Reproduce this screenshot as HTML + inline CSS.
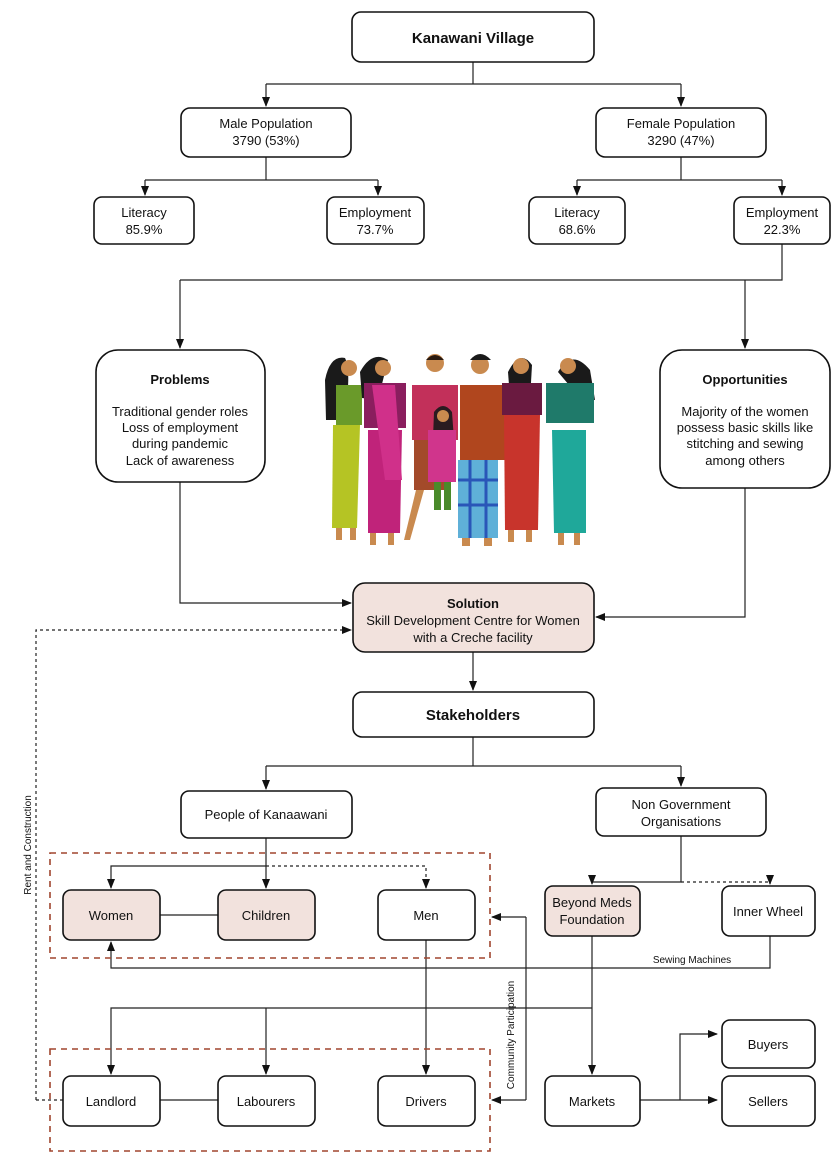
<!DOCTYPE html>
<html><head><meta charset="utf-8"><style>
body{margin:0;background:#fff}
svg text{font-family:"Liberation Sans",sans-serif;fill:#111}
</style></head><body>
<svg width="837" height="1166" viewBox="0 0 837 1166" xmlns="http://www.w3.org/2000/svg">
<defs>
<marker id="a" markerWidth="10" markerHeight="10" refX="9" refY="5" orient="auto" markerUnits="userSpaceOnUse"><path d="M0,1 L10,5 L0,9 z" fill="#111"/></marker>
</defs>
<g fill="none" stroke="#222" stroke-width="1.2">
<path d="M473 62V84M266 84H681"/>
<path d="M266 84V106" marker-end="url(#a)"/><path d="M681 84V106" marker-end="url(#a)"/>
<path d="M266 157V180M145 180H378"/>
<path d="M145 180V195" marker-end="url(#a)"/><path d="M378 180V195" marker-end="url(#a)"/>
<path d="M681 157V180M577 180H782"/>
<path d="M577 180V195" marker-end="url(#a)"/><path d="M782 180V195" marker-end="url(#a)"/>
<path d="M782 244V280H180"/>
<path d="M180 280V348" marker-end="url(#a)"/><path d="M745 280V348" marker-end="url(#a)"/>
<path d="M180 482V603H351" marker-end="url(#a)"/>
<path d="M745 488V617H596" marker-end="url(#a)"/>
<path d="M36 1100V630H351" stroke-dasharray="3,3" marker-end="url(#a)"/>
<path d="M36 1100H63" stroke-dasharray="3,3"/>
<path d="M473 652V690" marker-end="url(#a)"/>
<path d="M473 737V766M266 766H681"/>
<path d="M266 766V789" marker-end="url(#a)"/><path d="M681 766V786" marker-end="url(#a)"/>
<path d="M266 838V888" marker-end="url(#a)"/>
<path d="M266 866H111V888" marker-end="url(#a)"/>
<path d="M266 866H426V888" stroke-dasharray="3,3" marker-end="url(#a)"/>
<path d="M681 836V882H592V884" marker-end="url(#a)"/>
<path d="M681 882H770V884" stroke-dasharray="3,3" marker-end="url(#a)"/>
<path d="M160 915H218"/>
<path d="M770 935V968H111V942" marker-end="url(#a)"/>
<path d="M426 940V1074" marker-end="url(#a)"/>
<path d="M592 1008H111V1074" marker-end="url(#a)"/>
<path d="M266 1008V1074" marker-end="url(#a)"/>
<path d="M592 935V1074" marker-end="url(#a)"/>
<path d="M526 917V1100"/>
<path d="M526 917H492" marker-end="url(#a)"/>
<path d="M526 1100H492" marker-end="url(#a)"/>
<path d="M160 1100H218"/>
<path d="M640 1100H717" marker-end="url(#a)"/>
<path d="M680 1100V1034H717" marker-end="url(#a)"/>
</g>
<g fill="none" stroke="#a0452e" stroke-width="1.6" stroke-dasharray="6,5">
<rect x="50" y="853" width="440" height="105"/>
<rect x="50" y="1049" width="440" height="102"/>
</g>
<g stroke="#111" stroke-width="1.6" fill="#fff">
<rect x="352" y="12" width="242" height="50" rx="9"/>
<rect x="181" y="108" width="170" height="49" rx="9"/>
<rect x="596" y="108" width="170" height="49" rx="9"/>
<rect x="94" y="197" width="100" height="47" rx="8"/>
<rect x="327" y="197" width="97" height="47" rx="8"/>
<rect x="529" y="197" width="96" height="47" rx="8"/>
<rect x="734" y="197" width="96" height="47" rx="8"/>
<rect x="96" y="350" width="169" height="132" rx="22"/>
<rect x="660" y="350" width="170" height="138" rx="22"/>
<rect x="353" y="583" width="241" height="69" rx="12" fill="#f2e2dd"/>
<rect x="353" y="692" width="241" height="45" rx="9"/>
<rect x="181" y="791" width="171" height="47" rx="8"/>
<rect x="596" y="788" width="170" height="48" rx="8"/>
<rect x="63" y="890" width="97" height="50" rx="8" fill="#f2e2dd"/>
<rect x="218" y="890" width="97" height="50" rx="8" fill="#f2e2dd"/>
<rect x="378" y="890" width="97" height="50" rx="8"/>
<rect x="545" y="886" width="95" height="50" rx="8" fill="#f2e2dd"/>
<rect x="722" y="886" width="93" height="50" rx="8"/>
<rect x="63" y="1076" width="97" height="50" rx="8"/>
<rect x="218" y="1076" width="97" height="50" rx="8"/>
<rect x="378" y="1076" width="97" height="50" rx="8"/>
<rect x="545" y="1076" width="95" height="50" rx="8"/>
<rect x="722" y="1020" width="93" height="48" rx="8"/>
<rect x="722" y="1076" width="93" height="50" rx="8"/>
</g>
<g font-size="13" text-anchor="middle">
<text x="473" y="43" font-size="15" font-weight="bold">Kanawani Village</text>
<text x="266" y="128">Male Population</text><text x="266" y="145">3790 (53%)</text>
<text x="681" y="128">Female Population</text><text x="681" y="145">3290 (47%)</text>
<text x="144" y="217">Literacy</text><text x="144" y="234">85.9%</text>
<text x="375" y="217">Employment</text><text x="375" y="234">73.7%</text>
<text x="577" y="217">Literacy</text><text x="577" y="234">68.6%</text>
<text x="782" y="217">Employment</text><text x="782" y="234">22.3%</text>
<text x="180" y="384" font-weight="bold">Problems</text>
<text x="180" y="416">Traditional gender roles</text>
<text x="180" y="432">Loss of employment</text>
<text x="180" y="448">during pandemic</text>
<text x="180" y="465">Lack of awareness</text>
<text x="745" y="384" font-weight="bold">Opportunities</text>
<text x="745" y="416">Majority of the women</text>
<text x="745" y="432">possess basic skills like</text>
<text x="745" y="448">stitching and sewing</text>
<text x="745" y="465">among others</text>
<text x="473" y="608" font-weight="bold">Solution</text>
<text x="473" y="625">Skill Development Centre for Women</text>
<text x="473" y="642">with a Creche facility</text>
<text x="473" y="720" font-size="15" font-weight="bold">Stakeholders</text>
<text x="266" y="819">People of Kanaawani</text>
<text x="681" y="809">Non Government</text><text x="681" y="826">Organisations</text>
<text x="111" y="920">Women</text><text x="266" y="920">Children</text><text x="426" y="920">Men</text>
<text x="592" y="907">Beyond Meds</text><text x="592" y="924">Foundation</text>
<text x="768" y="916">Inner Wheel</text>
<text x="111" y="1106">Landlord</text><text x="266" y="1106">Labourers</text><text x="426" y="1106">Drivers</text>
<text x="592" y="1106">Markets</text>
<text x="768" y="1049">Buyers</text><text x="768" y="1106">Sellers</text>
<text x="692" y="963" font-size="10">Sewing Machines</text>
<text transform="translate(31,845) rotate(-90)" font-size="10">Rent and Construction</text>
<text transform="translate(514,1035) rotate(-90)" font-size="10">Community Participation</text>
</g>
<g stroke="none">
<path d="M325 380 Q330 355 345 358 Q352 372 344 420 L326 420 Z" fill="#1a1a1a"/>
<circle cx="349" cy="368" r="8" fill="#c98a4f"/>
<rect x="336" y="385" width="26" height="40" fill="#6a9a2a"/>
<path d="M333 425 L360 425 L357 528 L332 528 Z" fill="#b5c424"/>
<rect x="336" y="528" width="6" height="12" fill="#c98a4f"/><rect x="350" y="528" width="6" height="12" fill="#c98a4f"/>
<path d="M360 372 Q372 350 388 360 L378 400 L362 398 Z" fill="#1a1a1a"/>
<circle cx="383" cy="368" r="8" fill="#c98a4f"/>
<rect x="364" y="383" width="42" height="45" fill="#8a1e5e"/>
<path d="M368 430 L402 430 L400 533 L368 533 Z" fill="#c0237a"/>
<path d="M372 385 L395 385 L402 480 L385 480 Z" fill="#d0308a"/>
<rect x="370" y="533" width="6" height="12" fill="#c98a4f"/><rect x="388" y="533" width="6" height="12" fill="#c98a4f"/>
<circle cx="435" cy="363" r="9" fill="#c98a4f"/><path d="M426 360 Q435 350 444 360 Z" fill="#2a1a10"/>
<rect x="412" y="385" width="46" height="55" fill="#c2305a"/>
<rect x="414" y="440" width="32" height="50" fill="#a34a2a"/>
<path d="M416 490 L424 490 L410 540 L404 540 Z" fill="#c98a4f"/>
<circle cx="480" cy="365" r="9" fill="#c98a4f"/><path d="M470 360 Q480 348 491 360 Z" fill="#1a1a1a"/>
<rect x="460" y="385" width="45" height="75" fill="#b0461e"/>
<rect x="458" y="460" width="40" height="78" fill="#5fb0d8"/>
<path d="M458 480 H498 M458 505 H498 M470 460 V538 M486 460 V538" stroke="#2a56b8" stroke-width="3"/>
<rect x="462" y="538" width="8" height="8" fill="#c98a4f"/><rect x="484" y="538" width="8" height="8" fill="#c98a4f"/>
<path d="M434 412 Q443 400 452 412 L454 440 L433 438 Z" fill="#1a1a1a" opacity=".9"/>
<circle cx="443" cy="416" r="6" fill="#c98a4f"/>
<rect x="428" y="430" width="28" height="52" fill="#d0358c"/>
<rect x="434" y="482" width="7" height="28" fill="#4a8a2a"/><rect x="444" y="482" width="7" height="28" fill="#4a8a2a"/>
<path d="M508 372 Q520 348 532 365 L530 400 L510 398 Z" fill="#1a1a1a"/>
<circle cx="521" cy="366" r="8" fill="#c98a4f"/>
<rect x="502" y="383" width="40" height="32" fill="#6a1a40"/>
<path d="M504 415 L540 415 L538 530 L505 530 Z" fill="#c8342c"/>
<rect x="508" y="530" width="6" height="12" fill="#c98a4f"/><rect x="526" y="530" width="6" height="12" fill="#c98a4f"/>
<path d="M558 372 Q572 348 590 370 L595 400 L580 398 Z" fill="#1a1a1a"/>
<circle cx="568" cy="366" r="8" fill="#c98a4f"/>
<rect x="546" y="383" width="48" height="40" fill="#1f7a6a"/>
<path d="M552 430 L586 430 L586 533 L554 533 Z" fill="#1fa89a"/>
<rect x="558" y="533" width="6" height="12" fill="#c98a4f"/><rect x="574" y="533" width="6" height="12" fill="#c98a4f"/>
</g>
</svg>
</body></html>
